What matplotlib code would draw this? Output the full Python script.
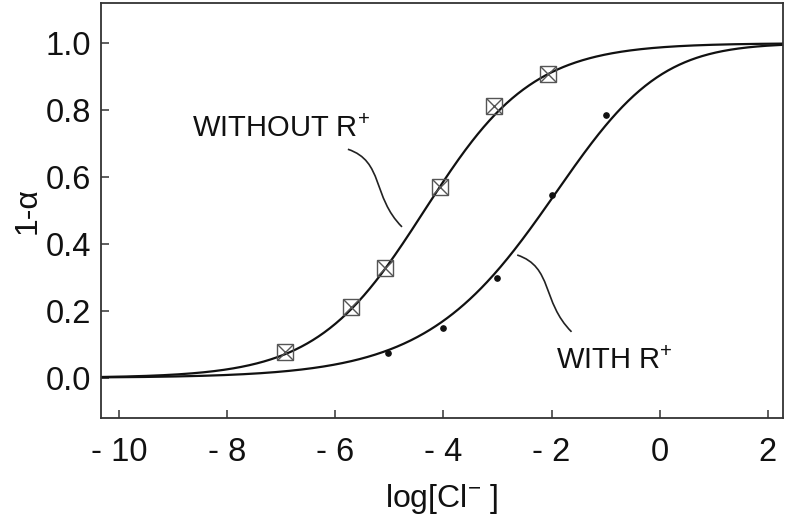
import numpy as np
import matplotlib
matplotlib.use("Agg")
import matplotlib.pyplot as plt
from matplotlib.path import Path
from matplotlib.patches import PathPatch

plt.rcParams['font.family'] = ['Liberation Sans', 'DejaVu Sans']
plt.rcParams['mathtext.fontset'] = 'custom'
plt.rcParams['mathtext.rm'] = 'Liberation Sans'
plt.rcParams['mathtext.it'] = 'Liberation Sans:italic'
plt.rcParams['mathtext.bf'] = 'Liberation Sans:bold'

# ---- data ----
without_x = [-6.92, -5.71, -5.07, -4.07, -3.07, -2.06]
without_y = [0.076, 0.212, 0.329, 0.571, 0.812, 0.909]

with_x = [-5.02, -4.01, -3.00, -2.00, -1.00]
with_y = [0.073, 0.149, 0.299, 0.546, 0.785]

# model curves (parameters)
without_mid = -4.35
without_slope = 1.0
with_mid = -1.02
with_slope = 0.78
with_order = 2

xticks = [-10, -8, -6, -4, -2, 0, 2]
xtick_labels = ['- 10', '- 8', '- 6', '- 4', '- 2', '0', '2']
yticks = [0.0, 0.2, 0.4, 0.6, 0.8, 1.0]
ytick_labels = ['0.0', '0.2', '0.4', '0.6', '0.8', '1.0']

xlim = (-10.33, 2.28)
ylim = (-0.12, 1.12)

fig = plt.figure(figsize=(7.86, 5.17), dpi=100)
ax = fig.add_axes([0.1285, 0.1915, 0.8677, 0.8027])

xs = np.linspace(xlim[0], xlim[1], 600)
y_without = 1.0 / (1.0 + np.exp(-without_slope * (xs - without_mid)))
y_with = 1.0 - (1.0 + np.exp(with_slope * (xs - with_mid))) ** (-with_order)

curve_kw = dict(color='#111111', lw=1.6, solid_capstyle='butt')
ax.plot(xs, y_without, **curve_kw)
ax.plot(xs, y_with, **curve_kw)

# square-with-cross markers
ax.plot(without_x, without_y, ls='none', marker='s', ms=11.5, mfc='none',
        mec='#555555', mew=1.0, zorder=3)
ax.plot(without_x, without_y, ls='none', marker='x', ms=11.5,
        mec='#555555', mew=1.0, zorder=3)

ax.plot(with_x, with_y, ls='none', marker='o', ms=3.8, color='#111111', zorder=3)

# annotations with S-shaped leaders
fs_ann = 21
fs_tick = 23.5
fs_lab = 23
ax.text(-8.65, 0.719, 'WITHOUT R$^{+}$', fontsize=fs_ann, color='#111111',
        ha='left', va='baseline')
ax.text(-1.91, 0.025, 'WITH R$^{+}$', fontsize=fs_ann, color='#111111',
        ha='left', va='baseline')


def leader(p0, p3):
    dx1, dy1 = 0.667, -0.036
    dx2, dy2 = -0.556, 0.090
    p1 = (p0[0] + dx1, p0[1] + dy1)
    p2 = (p3[0] + dx2, p3[1] + dy2)
    path = Path([p0, p1, p2, p3],
                [Path.MOVETO, Path.CURVE4, Path.CURVE4, Path.CURVE4])
    ax.add_patch(PathPatch(path, fc='none', ec='#222222', lw=1.2))


leader((-5.765, 0.683), (-4.765, 0.451))
leader((-2.635, 0.367), (-1.630, 0.1375))

ax.set_xlim(*xlim)
ax.set_ylim(*ylim)
ax.set_xticks(xticks)
ax.set_xticklabels(xtick_labels)
ax.set_yticks(yticks)
ax.set_yticklabels(ytick_labels)

ax.tick_params(axis='both', direction='in', length=6, width=1.1,
               colors='#333333', labelcolor='#111111', labelsize=fs_tick,
               top=False, right=False)
ax.tick_params(axis='x', pad=14)
ax.tick_params(axis='y', pad=7)
for s in ax.spines.values():
    s.set_color('#333333')
    s.set_linewidth(1.3)

ax.set_xlabel('log[Cl$^{-}$ ]', fontsize=fs_lab, color='#111111', labelpad=10)
ax.set_ylabel('1-α', fontsize=fs_lab, color='#111111', labelpad=2)

fig.savefig('out.png', dpi=100)
